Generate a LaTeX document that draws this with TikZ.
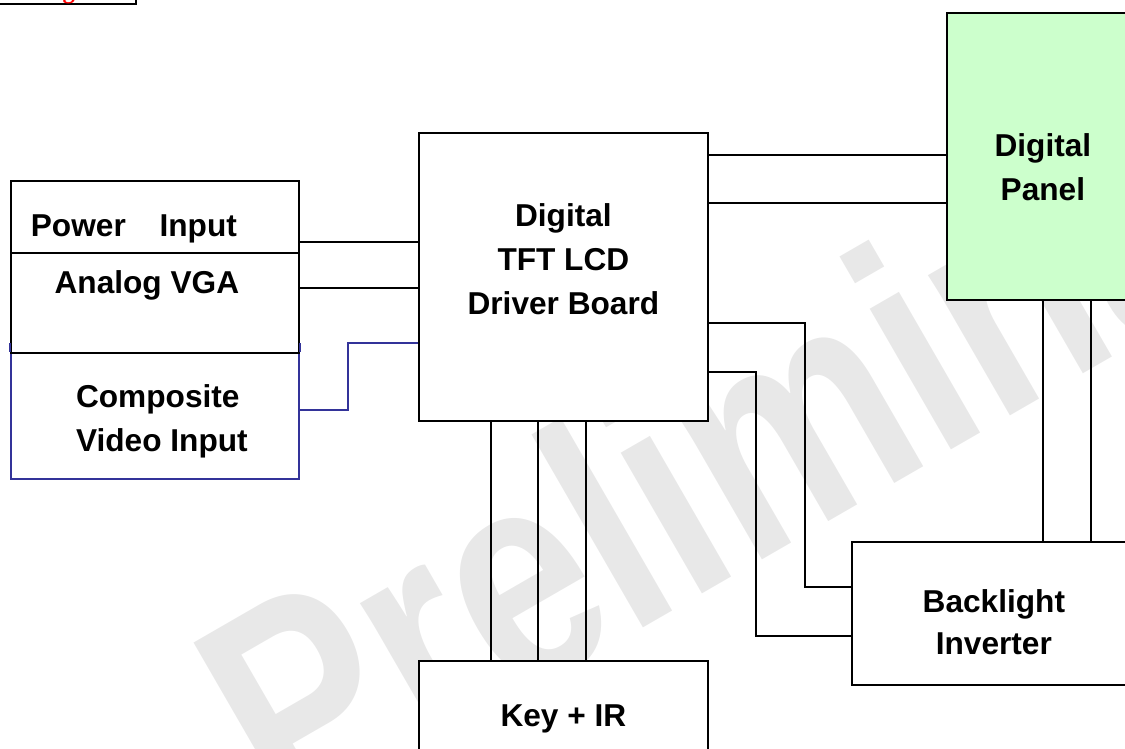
\documentclass[tikz,border=0pt]{standalone}
\usepackage{fontspec}
\setmainfont{Liberation Sans}
\newfontfamily\headfont{Liberation Serif}
\usetikzlibrary{calc}
\definecolor{panelGreen}{RGB}{204,255,204}
\definecolor{cvbsBlue}{RGB}{51,51,153}
\definecolor{markGray}{RGB}{232,232,232}

\begin{document}
\begin{tikzpicture}[x=0.2mm,y=-0.2mm,font=\fontsize{18}{25}\selectfont\bfseries,
 box/.style={draw,line width=1pt,fill=white,anchor=north west,inner sep=0pt},
 lbl/.style={align=center,inner sep=0pt},
 wire/.style={line width=.9pt},
 bluewire/.style={wire,cvbsBlue}]
\path[use as bounding box] (0,0) rectangle (1125,749);
% watermark behind everything
\node[text=markGray,font=\fontsize{140}{140}\selectfont\bfseries,rotate=30,yscale=1.25,anchor=base west,inner sep=0pt] (mark) at (285,835) {Preliminary};
% cut-off page tag
\node[draw,line width=1pt,anchor=south east,minimum width=38.8mm,text height=5mm,text depth=1.2mm,inner sep=0pt,
 text=red,font=\fontsize{14}{16}\headfont\bfseries] (tag) at (137,5) {Block Diagram};
% input stack
\node[box,draw=cvbsBlue,minimum width=57.6mm,minimum height=25.2mm,
 label={[lbl,align=left,xshift=1.4mm,yshift=-1.1mm]center:Composite\\Video Input}] (cvbs) at (10,352) {};
\node[box,minimum width=57.6mm,minimum height=20mm,
 label={[lbl,xshift=-1.6mm,yshift=3.4mm]center:Analog VGA}] (vga) at (10,252) {};
\node[box,minimum width=57.6mm,minimum height=14.4mm,
 label={[lbl,xshift=-4.2mm,yshift=-2.4mm]center:Power\hspace{5mm} Input}] (pwr) at (10,180) {};
\draw[bluewire] (cvbs.north west) -- ++(0,-9);
\draw[bluewire] (cvbs.north east) -- ++(0,-9);
% main blocks
\node[box,minimum width=57.8mm,minimum height=57.6mm,
 label={[lbl,yshift=3.6mm]center:Digital\\TFT LCD\\Driver Board}] (drv) at (418,132) {};
\node[box,fill=panelGreen,minimum width=38.4mm,minimum height=57.4mm,
 label={[lbl,yshift=-2.1mm]center:Digital\\Panel}] (panel) at (946,12) {};
\node[box,minimum width=56.8mm,minimum height=28.6mm,
 label={[lbl,font=\fontsize{18}{24}\selectfont\bfseries,yshift=-1.7mm]center:Backlight\\Inverter}] (bl) at (851,541) {};
\node[box,minimum width=57.8mm,minimum height=23.2mm,
 label={[lbl]center:Key + IR}] (key) at (418,660) {};
% inputs to driver
\coordinate (pin) at ($(pwr.south east)+(0,-12)$);
\coordinate (vin) at ($(vga.north east)+(0,36)$);
\coordinate (cvin) at ($(cvbs.north east)+(0,58)$);
\coordinate (dvin) at ($(drv.north west)+(0,211)$);
\draw[wire] (pin) -- (pin -| drv.west);
\draw[wire] (vin) -- (vin -| drv.west);
\draw[bluewire] (cvin) -- ++(48,0) |- (dvin);
% driver to panel
\foreach \dy in {23,71}{
 \coordinate (lv) at ($(drv.north east)+(0,\dy)$);
 \draw[wire] (lv) -- (lv -| panel.west);
}
% driver to backlight
\coordinate (bla) at ($(drv.north east)+(0,191)$);
\coordinate (blb) at ($(drv.north east)+(0,240)$);
\draw[wire] (bla) -- ++(96,0) |- ($(bl.north west)+(0,46)$);
\draw[wire] (blb) -- ++(47,0) |- ($(bl.north west)+(0,95)$);
% panel to backlight
\foreach \dx in {97,145}{
 \coordinate (pv) at ($(panel.south west)+(\dx,0)$);
 \draw[wire] (pv) -- (pv |- bl.north);
}
% driver to key
\foreach \dx in {73,120,168}
 \draw[wire] ($(drv.south west)+(\dx,0)$) -- ($(key.north west)+(\dx,0)$);
\end{tikzpicture}
\end{document}
